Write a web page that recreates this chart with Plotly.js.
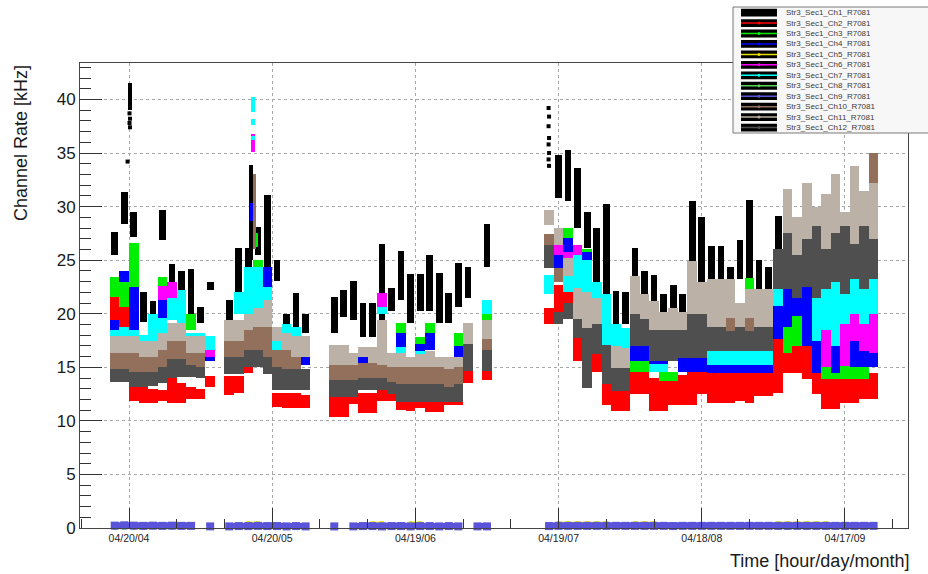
<!DOCTYPE html>
<html>
<head>
<meta charset="utf-8">
<script src="https://cdn.plot.ly/plotly-3.0.1.min.js"></script>
<style>
  html, body { margin: 0; padding: 0; background: #ffffff; }
  #chart { width: 928px; height: 574px; }
</style>
</head>
<body>
<div id="chart"></div>
<script>
const _ = null;

// Sample times, in days after 04:00 on 20 April (four running periods)
const days = [
  -3, -1, 1, 3, 5, 7, 9, 11, 13, 15, 17,
  21, 23, 25, 27, 29, 31, 33, 35, 37,
  43, 45, 47, 49, 51, 53, 55, 57, 59, 61, 63, 65, 67, 69, 71, 73, 75,
  88, 90, 92, 94, 96, 98, 100, 102, 104, 106, 108, 110, 112, 114, 116, 118, 120,
  122, 124, 126, 128, 130, 132, 134, 136, 138, 140, 142, 144, 146, 148, 150, 152, 154, 156
];

const channelNames = [
  'Str3_Sec1_Ch1_R7081', 'Str3_Sec1_Ch2_R7081', 'Str3_Sec1_Ch3_R7081',
  'Str3_Sec1_Ch4_R7081', 'Str3_Sec1_Ch5_R7081', 'Str3_Sec1_Ch6_R7081',
  'Str3_Sec1_Ch7_R7081', 'Str3_Sec1_Ch8_R7081', 'Str3_Sec1_Ch9_R7081',
  'Str3_Sec1_Ch10_R7081', 'Str3_Sec1_Ch11_R7081', 'Str3_Sec1_Ch12_R7081'
];

// Rate spread (kHz) per channel at each sample time: lowest and highest reading
const ch1Lo = [25.5, 28.4, 27.2, 19.2, 19.4, 26.9, 20.2, 20.4, 19.8, 19.1, 22.2,
  19.4, 21.9, 23.8, 25.5, 24.1, 23.1, 18.3, 18.2, 18.2,
  18.2, 19.7, 19.4, 17.8, 17.8, 18.2, 20.3, 21.3, 19.1, 20.3, 20.3, 19.1, 19.1, 20.6, 21.5, _, 24.4,
  _, 30.8, 30.5, 28.0, 26.1, 23.0, 21.8, 19.0, 19.0, 23.5, 21.8, 21.2, 20.2, 20.5, 20.2, 23.0, 23.0,
  21.3, 21.3, 20.7, 23.2, 23.3, 21.9, 21.6, 26.0, _, _, _, _, _, _, _, _, _, _];
const ch1Hi = [27.6, 31.4, 29.5, 22.0, 21.2, 29.7, 24.6, 24.0, 24.2, 20.6, 23.0,
  21.3, 26.1, 26.1, 28.1, 31.1, 25.0, 20.0, 21.9, 20.0,
  21.6, 22.2, 23.1, 21.0, 21.0, 26.5, 22.4, 25.9, 23.7, 23.7, 25.5, 23.8, 21.9, 24.7, 24.4, _, 28.4,
  _, 34.8, 35.3, 33.6, 29.5, 28.0, 30.2, 22.1, 22.0, 26.1, 24.0, 23.6, 21.8, 22.7, 21.8, 30.5, 29.0,
  26.3, 26.3, 24.4, 26.9, 30.6, 25.0, 24.4, 29.1, _, _, _, _, _, _, _, _, _, _];

const ch2Lo = [19.4, 18.8, 11.9, 11.7, 11.7, 11.9, 11.7, 11.7, 12.0, 12.0, 13.2,
  12.4, 12.6, 14.5, 15.0, 19.8, 11.3, 11.2, 11.2, 11.2,
  10.4, 10.4, 11.6, 10.7, 10.7, 11.9, 11.9, 11.0, 10.9, 11.2, 10.8, 10.8, 11.5, 11.5, 13.5, _, 13.8,
  19.0, 20.2, 20.0, 15.6, 15.6, 14.6, 11.5, 10.9, 10.9, 12.5, 12.5, 10.9, 10.9, 11.5, 11.5, 11.5, 12.5,
  11.7, 11.7, 11.7, 11.9, 11.7, 12.3, 12.3, 12.6, 14.5, 14.5, 13.9, 12.5, 11.1, 11.1, 11.7, 11.7, 12.0, 12.0];
const ch2Hi = [21.6, 20.6, 13.2, 13.2, 13.0, 12.9, 14.2, 13.5, 13.2, 13.0, 14.2,
  14.2, 14.2, 16.0, 16.5, 20.6, 12.6, 12.6, 12.6, 12.4,
  12.2, 12.2, 13.2, 12.6, 12.6, 13.2, 13.2, 12.4, 12.0, 12.2, 12.2, 12.2, 12.9, 12.9, 14.7, _, 14.7,
  20.5, 22.7, 22.5, 17.7, 17.4, 16.2, 13.4, 12.8, 12.8, 14.6, 14.6, 14.0, 13.7, 14.3, 14.3, 14.6, 14.6,
  14.5, 14.5, 14.5, 14.5, 14.5, 14.8, 14.8, 17.6, 16.3, 17.0, 17.0, 14.5, 13.9, 13.9, 13.9, 13.9, 13.9, 14.5];

const ch3Lo = [21.6, 20.6, 22.5, _, _, 22.6, _, _, 18.5, _, _,
  _, _, _, 24.0, _, _, _, _, _,
  _, _, _, _, _, _, _, 18.2, _, 16.9, 17.8, _, _, 16.9, _, _, 19.4,
  _, _, 26.8, _, 25.5, _, _, _, _, 14.6, 14.6, _, 13.7, 13.7, _, _, _,
  _, _, _, _, 22.3, _, _, _, 16.3, 17.0, _, _, 13.9, 13.9, 13.9, 13.9, 13.9, _];
const ch3Hi = [23.4, 23.0, 26.6, _, _, 23.4, _, _, 20.0, _, _,
  _, _, _, 25.0, _, _, _, _, _,
  _, _, _, _, _, _, _, 19.1, _, 17.8, 19.1, _, _, 18.2, _, _, 20.6,
  _, _, 28.0, _, 26.0, _, _, _, _, 15.6, 15.6, _, 14.6, 14.6, _, _, _,
  _, _, _, _, 23.3, _, _, _, 18.8, 19.8, _, _, 15.0, 14.5, 15.1, 15.0, 15.0, _];

const ch4Lo = [18.2, 23.0, 18.5, _, _, 19.6, _, _, _, _, 15.6,
  _, _, _, _, 22.5, _, _, _, 15.2,
  _, _, _, 15.4, _, _, _, 16.6, _, 16.3, 16.6, _, _, 16.0, _, _, _,
  _, 24.3, 25.8, _, 23.6, _, _, _, _, 15.6, 15.6, 14.6, 14.6, _, 14.6, 14.6, 14.6,
  14.5, 14.5, 14.5, 14.5, 14.5, 14.5, 14.5, 17.6, 18.8, 19.8, 17.0, 14.5, _, 14.5, _, 15.0, 15.0, 15.0];
const ch4Hi = [19.4, 24.0, 22.5, _, _, 21.3, _, _, _, _, 16.6,
  _, _, _, _, 24.4, _, _, _, 16.0,
  _, _, _, 16.0, _, _, _, 18.2, _, 17.2, 18.2, _, _, 17.0, _, _, _,
  _, 25.5, 27.1, _, 25.8, _, _, _, _, 17.0, 17.0, 15.6, 15.6, _, 15.9, 15.9, 15.9,
  15.7, 15.7, 15.7, 15.7, 15.7, 15.7, 15.7, 20.7, 22.3, 22.3, 22.5, 17.5, _, 17.0, _, 17.5, 16.5, 16.3];

const ch6Lo = [_, _, _, _, _, 21.3, 21.5, _, _, _, 16.0,
  _, _, _, _, _, _, _, _, _,
  _, _, _, _, _, 20.6, _, _, _, _, _, _, _, _, _, _, _,
  _, 25.5, 25.2, 25.5, _, _, _, _, _, _, _, _, _, _, _, _, _,
  _, _, _, _, _, _, _, _, _, _, _, _, 15.0, _, 15.1, 17.5, 16.5, 16.3];
const ch6Hi = [_, _, _, _, _, 22.6, 23.0, _, _, _, 16.6,
  _, _, _, _, _, _, _, _, _,
  _, _, _, _, _, 21.9, _, _, _, _, _, _, _, _, _, _, _,
  _, 26.4, 25.8, 26.4, _, _, _, _, _, _, _, _, _, _, _, _, _,
  _, _, _, _, _, _, _, _, _, _, _, _, 18.5, _, 19.0, 20.0, 19.0, 20.0];

const ch7Lo = [16.9, 16.9, 16.9, 16.9, 17.5, 17.5, 19.4, 19.0, 16.9, 16.9, 16.6,
  _, 20.0, 20.0, 20.5, 20.0, 16.2, 18.2, 17.9, _,
  _, _, _, _, _, 20.0, _, 16.3, _, 16.0, _, _, _, _, _, _, 20.0,
  21.8, _, 22.0, 22.4, 22.0, 21.5, 17.1, 17.0, 16.8, _, _, 14.6, 14.6, _, _, _, _,
  15.2, 15.2, 15.2, 15.2, 15.2, 15.2, 15.2, 20.7, _, _, _, 17.5, 18.5, 17.0, 19.0, 20.0, 19.0, 20.0];
const ch7Hi = [18.5, 18.8, 18.5, 18.0, 20.0, 19.6, 21.5, 22.2, 18.2, 18.2, 17.9,
  _, 22.0, 24.4, 24.4, 22.5, 17.5, 19.0, 18.8, _,
  _, _, _, _, _, 20.6, _, 16.9, _, 16.5, _, _, _, _, _, _, 21.3,
  23.6, _, 23.5, 25.5, 25.0, 23.0, 21.8, 19.0, 18.7, _, _, 15.3, 15.3, _, _, _, _,
  16.5, 16.5, 16.5, 16.5, 16.5, 16.5, 16.5, 22.3, _, _, _, 22.3, 22.3, 23.0, 23.2, 23.2, 23.2, 28.2];

const ch10Lo = [14.8, 14.8, 14.6, 14.6, 14.6, 15.0, 15.8, 15.8, 15.2, 15.0, _,
  16.0, 16.0, 16.6, 16.6, 16.0, 15.0, 14.8, 14.8, _,
  13.8, 13.8, 13.8, 14.0, 14.0, 14.0, 13.6, 13.4, 13.4, 13.4, 13.4, 13.4, 13.2, 13.4, _, _, 16.6,
  26.1, 23.0, _, _, _, _, _, _, _, _, _, _, _, _, _, _, _,
  _, _, 18.4, _, 18.4, _, _, _, _, _, _, _, _, _, _, _, _, 32.2];
const ch10Hi = [16.3, 16.3, 16.3, 16.0, 16.0, 16.6, 17.5, 17.5, 16.3, 16.3, _,
  17.5, 17.5, 18.5, 18.8, 18.8, 16.6, 16.6, 16.0, _,
  15.2, 15.2, 15.2, 15.4, 15.4, 15.2, 15.0, 15.0, 15.0, 15.0, 15.0, 15.0, 14.8, 15.0, _, _, 17.6,
  27.4, 24.3, _, _, _, _, _, _, _, _, _, _, _, _, _, _, _,
  _, _, 19.6, _, 19.6, _, _, _, _, _, _, _, _, _, _, _, _, 35.0];

const ch11Lo = [16.3, 16.3, 16.3, 16.0, 16.0, 16.6, 17.5, 17.5, 16.3, 16.3, _,
  17.5, 17.5, 18.5, 18.8, 18.8, 17.5, 16.6, 16.0, 16.0,
  15.2, 15.2, 15.2, 16.0, 15.4, 15.2, 15.0, 15.0, 15.0, 15.0, 15.0, 15.0, 14.8, 15.0, 17.2, _, 17.6,
  28.3, 26.4, 23.5, 19.5, 18.7, 19.0, _, 14.9, 14.9, 18.7, 19.5, 18.5, 18.5, 18.5, 18.5, 20.0, 20.0,
  18.8, 18.8, 19.6, 18.8, 19.6, 18.8, 18.8, _, 26.0, 25.0, 25.4, 27.0, 25.5, 27.0, 27.5, 26.0, 27.5, 26.5];
const ch11Hi = [17.9, 17.9, 17.9, 17.5, 17.5, 18.2, 19.1, 19.1, 17.9, 17.9, _,
  19.4, 19.4, 20.0, 20.5, 21.3, 18.8, 18.2, 17.9, 17.9,
  17.1, 17.1, 16.3, 16.9, 16.9, 19.4, 16.3, 16.3, 16.0, 16.2, 16.5, 16.0, 16.0, 16.0, 19.1, _, 19.4,
  29.7, 28.0, 25.2, 22.4, 22.0, 21.5, _, 17.0, 16.8, 23.5, 21.8, 21.2, 20.2, 20.5, 20.2, 24.9, 23.0,
  23.2, 23.2, 23.2, 21.0, 22.3, 22.3, 22.3, _, 31.6, 29.0, 32.2, 30.0, 31.2, 33.0, 29.5, 33.8, 31.5, 32.2];

const ch12Lo = [13.6, 13.6, 13.2, 13.2, 13.3, 13.5, 14.0, 14.1, 14.1, 14.0, _,
  14.4, 14.4, 15.0, 15.0, 14.4, 12.9, 12.9, 12.9, 12.9,
  12.2, 12.2, 12.2, 12.9, 12.9, 12.9, 12.5, 11.8, 11.8, 11.8, 11.8, 11.8, 11.8, 11.8, 14.7, _, 14.7,
  24.3, 19.0, 19.5, 17.7, 13.1, 16.2, 13.4, 12.8, 12.8, 17.0, 17.0, 15.6, 15.6, 15.6, 15.9, 15.9, 15.9,
  16.5, 16.5, 16.5, 16.5, 16.5, 16.5, 16.5, 22.3, 22.3, 21.5, 22.5, 21.5, 22.3, 23.0, 21.8, 23.2, 22.3, 23.2];
const ch12Hi = [14.8, 14.8, 14.6, 14.6, 14.6, 15.0, 15.8, 15.8, 15.2, 15.0, _,
  16.0, 16.0, 16.6, 16.6, 16.0, 15.0, 14.8, 14.8, 14.8,
  13.8, 13.8, 13.8, 14.0, 14.0, 14.0, 13.6, 13.4, 13.4, 13.4, 13.4, 13.4, 13.2, 13.4, 17.2, _, 16.6,
  26.4, 20.2, 21.0, 19.5, 18.7, 19.0, 17.1, 14.9, 14.9, 20.0, 19.5, 18.5, 18.5, 18.5, 18.5, 20.0, 20.0,
  18.8, 18.8, 18.4, 18.8, 18.4, 18.8, 18.8, 26.0, 27.5, 25.5, 27.0, 28.2, 26.0, 27.5, 28.2, 26.5, 28.2, 27.0];

// Channels that stay near zero: one rate value (kHz) per sample time
const ch5Rate = [_, _, _, _, _, _, _, _, _, _, _,
  _, _, 0.45, 0.45, _, _, _, _, _,
  _, _, _, _, 0.45, 0.45, _, _, 0.45, 0.45, _, _, _, _, _, _, _,
  _, 0.45, 0.45, 0.45, 0.45, 0.45, 0.45, _, _, 0.45, 0.45, 0.45, _, _, _, _, _,
  _, _, _, _, _, _, _, 0.45, 0.45, 0.45, 0.45, 0.45, 0.45, _, _, _, _, _];
const ch8Rate = [0.03, 0.03, 0.03, 0.03, 0.03, 0.03, 0.03, 0.03, 0.03, _, _,
  _, _, _, _, _, _, _, _, _,
  _, _, _, _, _, _, _, _, _, _, _, _, _, _, _, _, _,
  _, _, _, _, _, _, _, _, _, _, _, _, _, _, _, _, _,
  _, _, _, _, _, _, _, 0.03, 0.03, 0.03, 0.03, 0.03, 0.03, 0.03, 0.03, 0.03, 0.03, 0.03];
const ch9Rate = [0.22, 0.25, 0.22, 0.2, 0.22, 0.2, 0.22, 0.2, 0.2, _, 0.15,
  0.15, 0.18, 0.18, 0.2, 0.18, 0.18, 0.15, 0.18, 0.15,
  0.15, _, 0.15, 0.18, 0.18, 0.15, 0.18, 0.18, 0.15, 0.18, 0.18, 0.15, 0.18, 0.15, _, 0.15, 0.15,
  0.18, 0.2, 0.2, 0.2, 0.2, 0.2, 0.2, 0.2, 0.2, 0.2, 0.2, 0.2, 0.2, 0.18, 0.2, 0.2, 0.2,
  0.2, 0.2, 0.2, 0.2, 0.2, 0.2, 0.2, 0.2, 0.2, 0.2, 0.2, 0.2, 0.2, 0.2, 0.2, 0.2, 0.2, 0.2];

// Short bursts (channel number, time, low, high)
const burstChannel = [1, 1, 3, 4, 6, 7, 7, 7, 10];
const burstDay = [0.2, 25.6, 26.6, 25.8, 26.0, 25.9, 25.9, 26.0, 26.3];
const burstLo = [39.0, 25.0, 26.2, 28.7, 35.1, 38.8, 37.6, 36.2, 26.0];
const burstHi = [41.5, 33.9, 27.5, 30.3, 36.8, 40.2, 38.2, 36.6, 33.0];

// Isolated Ch1 readings
const ch1DotDay = [0.1, 0.2, 0.1, 0.2, -0.3, 87.9, 88.0, 87.9, 88.0, 87.9, 88.0, 87.9, 88.0];
const ch1DotVal = [38.7, 38.2, 37.8, 37.4, 34.2, 39.2, 38.4, 37.5, 36.4, 35.8, 35.0, 34.4, 33.8];

// ---------------------------------------------------------------------------
const T0 = Date.UTC(2009, 3, 20, 4, 0, 0);
const DAY = 86400000;
function stamp(d) {
  const t = new Date(T0 + d * DAY);
  const p = n => String(n).padStart(2, '0');
  return t.getUTCFullYear() + '-' + p(t.getUTCMonth() + 1) + '-' + p(t.getUTCDate()) + ' ' +
    p(t.getUTCHours()) + ':' + p(t.getUTCMinutes()) + ':' + p(t.getUTCSeconds());
}

const colors = ['#000000', '#ff0000', '#00ee00', '#0000ff', '#e8e000', '#ff00ff',
  '#00ffff', '#59d454', '#5954d9', '#93705c', '#bcb1a6', '#4f4f4f'];

const FONT = 'Liberation Sans, Arial, Helvetica, sans-serif';

function bandTrace(t, lo, hi, color, widthDays) {
  const x = [], base = [], y = [];
  for (let i = 0; i < t.length; i++) {
    if (lo[i] == null || hi[i] == null) continue;
    x.push(stamp(t[i]));
    base.push(lo[i]);
    y.push(hi[i] - lo[i]);
  }
  return {
    type: 'bar', x: x, y: y, base: base, width: widthDays * DAY,
    marker: { color: color, line: { width: 0 } },
    hoverinfo: 'skip', showlegend: false
  };
}

function rateTrace(t, rate, color, lineWidth) {
  const x = [], y = [];
  for (let i = 0; i < t.length; i++) {
    if (rate[i] == null) { x.push(null); y.push(null); continue; }
    if (i > 0 && rate[i - 1] != null && t[i] - t[i - 1] > 2.5) { x.push(null); y.push(null); }
    x.push(stamp(t[i]));
    y.push(rate[i]);
  }
  return {
    type: 'scatter', mode: 'lines+markers', x: x, y: y, connectgaps: false, cliponaxis: false,
    line: { color: color, width: lineWidth },
    marker: { color: color, size: lineWidth + 1, symbol: 'square' },
    hoverinfo: 'skip', showlegend: false
  };
}

const bands = {
  1: [ch1Lo, ch1Hi], 2: [ch2Lo, ch2Hi], 3: [ch3Lo, ch3Hi], 4: [ch4Lo, ch4Hi],
  6: [ch6Lo, ch6Hi], 7: [ch7Lo, ch7Hi], 10: [ch10Lo, ch10Hi], 11: [ch11Lo, ch11Hi], 12: [ch12Lo, ch12Hi]
};
const rates = { 5: [ch5Rate, 3], 8: [ch8Rate, 3], 9: [ch9Rate, 7] };

const traces = [];
for (let c = 1; c <= 12; c++) {
  if (bands[c]) traces.push(bandTrace(days, bands[c][0], bands[c][1], colors[c - 1], c === 1 ? 1.4 : 2.0));
  if (rates[c]) traces.push(rateTrace(days, rates[c][0], colors[c - 1], rates[c][1]));
}
for (let c = 1; c <= 12; c++) {
  const t = [], lo = [], hi = [];
  burstChannel.forEach((ch, i) => { if (ch === c) { t.push(burstDay[i]); lo.push(burstLo[i]); hi.push(burstHi[i]); } });
  if (t.length) traces.push(bandTrace(t, lo, hi, colors[c - 1], 0.8));
}
traces.push({
  type: 'scatter', mode: 'markers', x: ch1DotDay.map(stamp), y: ch1DotVal,
  marker: { color: '#000000', size: 4, symbol: 'square' }, hoverinfo: 'skip', showlegend: false
});

// Pixel helpers for the frame area (x 80..908, y 63..528)
const px2x = p => (p - 80) / 828;
const py2y = p => (528 - p) / 465;

const shapes = [];
const annotations = [];

// Legend box
shapes.push({ type: 'rect', xref: 'paper', yref: 'paper', x0: px2x(733), x1: px2x(945),
  y0: py2y(133), y1: py2y(7), fillcolor: '#f7f7f7', line: { color: '#7a7a7a', width: 1 }, layer: 'above' });
channelNames.forEach((name, i) => {
  const yc = 12.6 + 10.45 * i;
  shapes.push({ type: 'rect', xref: 'paper', yref: 'paper', x0: px2x(741), x1: px2x(777),
    y0: py2y(yc + 3.9), y1: py2y(yc - 3.9), fillcolor: '#000000', line: { width: 0 }, layer: 'above' });
  shapes.push({ type: 'line', xref: 'paper', yref: 'paper', x0: px2x(741), x1: px2x(777),
    y0: py2y(yc), y1: py2y(yc), line: { color: colors[i], width: 1.5 }, layer: 'above' });
  shapes.push({ type: 'circle', xref: 'paper', yref: 'paper', x0: px2x(757.5), x1: px2x(760.5),
    y0: py2y(yc + 1.5), y1: py2y(yc - 1.5), fillcolor: colors[i], line: { width: 0 }, layer: 'above' });
  annotations.push({ xref: 'paper', yref: 'paper', x: px2x(784), y: py2y(yc), xanchor: 'left', yanchor: 'middle',
    text: name, showarrow: false, font: { family: FONT, size: 8, color: '#3a3a3a' } });
});

// Axis titles
annotations.push({ xref: 'paper', yref: 'paper', x: px2x(21), y: 1, xanchor: 'center', yanchor: 'top',
  text: 'Channel Rate [kHz]', textangle: -90, showarrow: false, font: { family: FONT, size: 18, color: '#1a1a1a' } });
annotations.push({ xref: 'paper', yref: 'paper', x: px2x(911), y: py2y(561), xanchor: 'right', yanchor: 'middle',
  text: 'Time [hour/day/month]', showarrow: false, font: { family: FONT, size: 18, color: '#1a1a1a' } });

const layout = {
  width: 928, height: 574,
  margin: { l: 80, r: 20, t: 63, b: 46, pad: 0 },
  paper_bgcolor: '#ffffff', plot_bgcolor: '#ffffff',
  barmode: 'overlay', bargap: 0,
  showlegend: false,
  font: { family: FONT, color: '#1a1a1a' },
  xaxis: {
    type: 'date',
    range: [stamp(-10.27), stamp(163.2)],
    tick0: stamp(0), dtick: 30 * DAY, tickformat: '%H/%d/%m',
    ticks: 'inside', ticklen: 20, tickwidth: 1, tickcolor: '#333333',
    tickfont: { family: FONT, size: 10.5, color: '#222222' },
    showgrid: true, gridcolor: '#a8a8a8', griddash: 'dot', gridwidth: 1,
    showline: true, linecolor: '#444444', linewidth: 1, mirror: true, zeroline: false,
    minor: { tick0: stamp(0), dtick: 10 * DAY, ticks: 'inside', ticklen: 9, tickcolor: '#333333', showgrid: false },
    fixedrange: true
  },
  yaxis: {
    range: [0, 43.4],
    tick0: 0, dtick: 5,
    ticks: 'inside', ticklen: 22, tickwidth: 1, tickcolor: '#333333',
    tickfont: { family: FONT, size: 17, color: '#1a1a1a' },
    showgrid: true, gridcolor: '#a8a8a8', griddash: 'dot', gridwidth: 1,
    showline: true, linecolor: '#444444', linewidth: 1, mirror: true, zeroline: false,
    minor: { tick0: 0, dtick: 1, ticks: 'inside', ticklen: 11, tickcolor: '#333333', showgrid: false },
    fixedrange: true
  },
  shapes: shapes,
  annotations: annotations
};

Plotly.newPlot('chart', traces, layout, { displayModeBar: false, staticPlot: true });
</script>
</body>
</html>
